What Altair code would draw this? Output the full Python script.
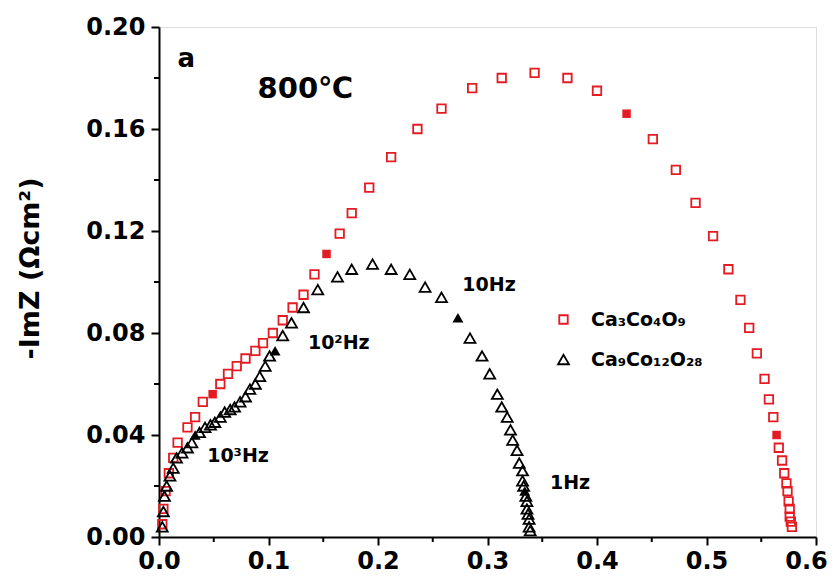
import altair as alt
import pandas as pd

RED = "#e31b23"
S1 = "Ca₃Co₄O₉"
S2 = "Ca₉Co₁₂O₂₈"

# Ca3Co4O9 (red squares)
sq_x = [0.003, 0.004, 0.006, 0.009, 0.013, 0.017, 0.026, 0.033, 0.040, 0.049,
        0.056, 0.063, 0.071, 0.079, 0.088, 0.095, 0.104, 0.113, 0.122, 0.132,
        0.142, 0.153, 0.165, 0.176, 0.192, 0.212, 0.236, 0.258, 0.286, 0.313,
        0.343, 0.373, 0.400, 0.427, 0.451, 0.472, 0.490, 0.506, 0.520, 0.531,
        0.539, 0.546, 0.553, 0.557, 0.561, 0.564, 0.566, 0.569, 0.571, 0.573,
        0.574, 0.575, 0.576, 0.576, 0.577, 0.578]
sq_y = [0.005, 0.011, 0.018, 0.025, 0.031, 0.037, 0.043, 0.047, 0.053, 0.056,
        0.060, 0.064, 0.067, 0.070, 0.073, 0.076, 0.080, 0.085, 0.090, 0.095,
        0.103, 0.111, 0.119, 0.127, 0.137, 0.149, 0.160, 0.168, 0.176, 0.180,
        0.182, 0.180, 0.175, 0.166, 0.156, 0.144, 0.131, 0.118, 0.105, 0.093,
        0.082, 0.072, 0.062, 0.054, 0.047, 0.040, 0.035, 0.030, 0.025, 0.021,
        0.018, 0.014, 0.011, 0.008, 0.006, 0.004]
sq_filled = [9, 21, 33, 45]

# Ca9Co12O28 (black triangles)
tr_x = [0.003, 0.004, 0.005, 0.007, 0.010, 0.013, 0.016, 0.021, 0.026, 0.030,
        0.033, 0.037, 0.042, 0.047, 0.051, 0.056, 0.060, 0.065, 0.069, 0.074,
        0.079, 0.083, 0.088, 0.092, 0.097, 0.101, 0.106, 0.113, 0.121, 0.132,
        0.145, 0.163, 0.176, 0.195, 0.212, 0.229, 0.243, 0.258, 0.273, 0.284,
        0.295, 0.302, 0.309, 0.313, 0.318, 0.321, 0.323, 0.327, 0.329, 0.332,
        0.332, 0.333, 0.334, 0.335, 0.336, 0.336, 0.337, 0.338, 0.338, 0.339]
tr_y = [0.004, 0.010, 0.016, 0.020, 0.024, 0.027, 0.031, 0.033, 0.035, 0.037,
        0.040, 0.041, 0.043, 0.044, 0.045, 0.047, 0.049, 0.050, 0.051, 0.053,
        0.055, 0.058, 0.060, 0.063, 0.067, 0.071, 0.073, 0.079, 0.084, 0.090,
        0.097, 0.102, 0.105, 0.107, 0.105, 0.103, 0.098, 0.094, 0.086, 0.078,
        0.071, 0.064, 0.056, 0.051, 0.047, 0.042, 0.038, 0.034, 0.029, 0.026,
        0.022, 0.020, 0.018, 0.016, 0.014, 0.011, 0.009, 0.007, 0.004, 0.0025]
tr_filled = [10, 26, 38, 52]

# annotations
ann_text = ["a", "800℃", "10Hz", "10²Hz", "10³Hz", "1Hz"]
ann_x = [0.017, 0.090, 0.277, 0.136, 0.044, 0.357]
ann_y = [0.1875, 0.1757, 0.0988, 0.076, 0.0318, 0.0212]
ann_size = [26, 29, 19, 19, 19, 19]

y_major = [0.0, 0.04, 0.08, 0.12, 0.16, 0.20]
y_minor = [0.02, 0.06, 0.10, 0.14, 0.18]
x_major = [0.0, 0.1, 0.2, 0.3, 0.4, 0.5, 0.6]
x_minor = [0.05, 0.15, 0.25, 0.35, 0.45, 0.55]

rows = []
for i, (x, y) in enumerate(zip(sq_x, sq_y)):
    rows.append({"x": x, "y": y, "s": S1, "f": i in sq_filled})
for i, (x, y) in enumerate(zip(tr_x, tr_y)):
    rows.append({"x": x, "y": y, "s": S2, "f": i in tr_filled})
df = pd.DataFrame(rows)

FONT = "DejaVu Sans"

xs = alt.Scale(domain=[0, 0.6], nice=False, zero=False)
ys = alt.Scale(domain=[0, 0.2], nice=False, zero=False)

shape_scale = alt.Scale(domain=[S1, S2], range=["square", "triangle-up"])
color_scale = alt.Scale(domain=[S1, S2], range=[RED, "black"])
size_scale = alt.Scale(domain=[S1, S2], range=[72, 120])

LEG = alt.Legend(title=None, orient="none", legendX=395, legendY=283,
                 padding=0, rowPadding=20, labelFont=FONT, labelFontSize=19,
                 labelFontWeight="bold", labelColor="black", labelOffset=18,
                 symbolStrokeWidth=1.8, symbolFillColor="transparent")

X = alt.X("x:Q", scale=xs,
          axis=alt.Axis(values=x_major, format=".1f", title=None, tickSize=8,
                        tickWidth=2, domainWidth=2, domainColor="black",
                        tickColor="black", labelFont=FONT, labelFontSize=24,
                        labelFontWeight="bold", labelColor="black",
                        labelPadding=4, grid=False, labelFlush=False,
                        labelOffset={"condition": {"test": "datum.value >= 0.6",
                                                   "value": -10},
                                     "value": 0}))
Y = alt.Y("y:Q", scale=ys,
          axis=alt.Axis(values=y_major, format=".2f", title="-ImZ (Ωcm²)",
                        tickSize=8, tickWidth=2, domainWidth=2,
                        domainColor="black", tickColor="black",
                        labelFont=FONT, labelFontSize=24,
                        labelFontWeight="bold", labelColor="black",
                        labelPadding=6, grid=False, labelFlush=False,
                        titleFont=FONT, titleFontSize=27,
                        titleFontWeight="bold", titleColor="black",
                        titleX=-129, titleY=241, titleAlign="center",
                        titleBaseline="middle", titleAngle=270))

open_pts = alt.Chart(df).transform_filter("!datum.f").mark_point(
    filled=False, strokeWidth=1.8, opacity=1
).encode(
    x=X, y=Y,
    shape=alt.Shape("s:N", scale=shape_scale, legend=LEG),
    color=alt.Color("s:N", scale=color_scale, legend=LEG),
    size=alt.Size("s:N", scale=size_scale, legend=LEG),
)

filled_pts = alt.Chart(df).transform_filter("datum.f").mark_point(
    filled=True, opacity=1
).encode(
    x="x:Q", y="y:Q",
    shape=alt.Shape("s:N", scale=shape_scale, legend=None),
    color=alt.Color("s:N", scale=color_scale, legend=None),
    size=alt.Size("s:N", scale=size_scale, legend=None),
)

pts = alt.layer(open_pts, filled_pts).resolve_legend(
    shape="independent", color="independent", size="independent")

ann = pd.DataFrame({"t": ann_text, "x": ann_x, "y": ann_y, "fs": ann_size})
texts = alt.Chart(ann).mark_text(
    align="left", baseline="middle", font=FONT, fontWeight="bold",
    color="black"
).encode(x="x:Q", y="y:Q", text="t:N",
         size=alt.Size("fs:Q", scale=None, legend=None))

ymin = alt.Chart(pd.DataFrame({"v": y_minor})).mark_rule(
    color="black", strokeWidth=2
).encode(y="v:Q", x=alt.value(-5), x2=alt.value(0))
xmin = alt.Chart(pd.DataFrame({"v": x_minor})).mark_rule(
    color="black", strokeWidth=2
).encode(x="v:Q", y=alt.value(510), y2=alt.value(515))

chart = alt.layer(pts, texts, ymin, xmin).resolve_scale(
    size="independent"
).properties(
    width=657, height=510,
    autosize=alt.AutoSizeParams(type="none"),
    padding={"left": 151, "top": 19, "right": 11, "bottom": 36},
).configure_view(stroke="black", strokeWidth=2).configure(background="white")

chart.save("out.html", embed_options={"renderer": "svg", "actions": False})
